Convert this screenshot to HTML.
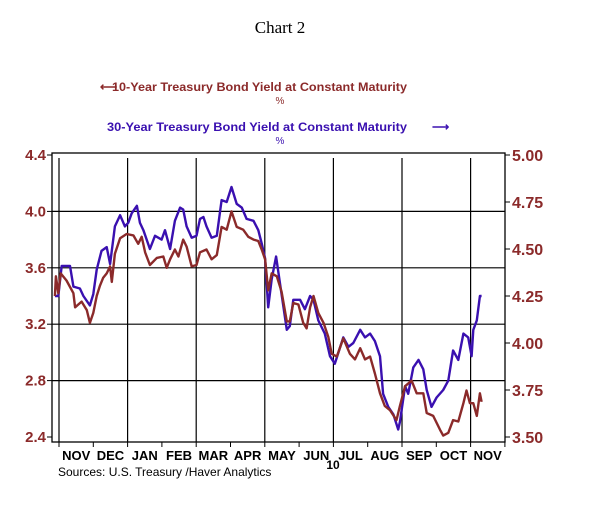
<!DOCTYPE html>
<html><head><meta charset="utf-8"><style>
body{margin:0;background:#fff;width:603px;height:507px;overflow:hidden}
svg{display:block;font-family:"Liberation Sans",sans-serif}
</style></head><body>
<svg id="chart" width="603" height="507">
<text x="280" y="33" text-anchor="middle" font-family="Liberation Serif" font-size="17">Chart 2</text>
<g>
<text x="100" y="91" fill="#8b2a2a" font-size="12" font-weight="bold">⟵</text>
<text x="112" y="91" fill="#8b2a2a" font-size="12" font-weight="bold" textLength="295" lengthAdjust="spacingAndGlyphs">10-Year Treasury Bond Yield at Constant Maturity</text>
<text x="280" y="104" fill="#8b2a2a" font-size="10" text-anchor="middle">%</text>
<text x="107" y="131" fill="#3a10b0" font-size="12" font-weight="bold" textLength="300" lengthAdjust="spacingAndGlyphs">30-Year Treasury Bond Yield at Constant Maturity</text>
<text x="432" y="131" fill="#3a10b0" font-size="12" font-weight="bold">⟶</text>
<text x="280" y="144" fill="#3a10b0" font-size="10" text-anchor="middle">%</text>
</g>
<g id="axes"></g>
<g id="series"></g>
<text x="333" y="469" font-size="12" font-weight="bold" text-anchor="middle">10</text>
<text x="58" y="476" font-size="12">Sources:  U.S. Treasury /Haver Analytics</text>
</svg>
<script>
const leftTicks=[2.4,2.8,3.2,3.6,4.0,4.4];
const rightTicks=[3.50,3.75,4.00,4.25,4.50,4.75,5.00];
const monthLabels=["NOV","DEC","JAN","FEB","MAR","APR","MAY","JUN","JUL","AUG","SEP","OCT","NOV"];
const redMonths=[-0.12,-0.09,-0.02,0.05,0.22,0.42,0.47,0.66,0.81,0.90,1.0,1.10,1.19,1.29,1.39,1.49,1.54,1.63,1.78,1.97,2.17,2.31,2.41,2.51,2.65,2.85,3.04,3.14,3.24,3.38,3.48,3.62,3.72,3.87,4.01,4.11,4.30,4.45,4.60,4.74,4.89,5.03,5.18,5.37,5.52,5.67,5.81,5.91,6.01,6.10,6.20,6.35,6.49,6.64,6.73,6.83,6.98,7.12,7.22,7.32,7.42,7.56,7.71,7.85,7.95,8.10,8.29,8.48,8.63,8.78,8.92,9.07,9.21,9.36,9.50,9.65,9.84,9.94,10.09,10.28,10.43,10.62,10.72,10.91,11.11,11.20,11.35,11.49,11.64,11.79,11.88,11.98,12.08,12.18,12.27,12.32];
const redValues=[3.40,3.54,3.42,3.56,3.51,3.42,3.32,3.36,3.30,3.21,3.28,3.40,3.47,3.53,3.56,3.61,3.50,3.70,3.81,3.84,3.83,3.77,3.82,3.71,3.62,3.67,3.68,3.60,3.66,3.73,3.68,3.80,3.75,3.61,3.62,3.71,3.73,3.66,3.69,3.89,3.87,4.00,3.89,3.87,3.82,3.80,3.79,3.73,3.66,3.44,3.56,3.54,3.43,3.22,3.22,3.35,3.34,3.21,3.17,3.32,3.40,3.28,3.21,3.11,2.99,2.97,3.10,2.99,2.95,3.03,2.95,2.97,2.85,2.71,2.62,2.59,2.52,2.62,2.76,2.80,2.71,2.71,2.57,2.55,2.45,2.41,2.43,2.52,2.51,2.64,2.73,2.64,2.64,2.55,2.71,2.65];
const blueMonths=[-0.12,-0.02,0.08,0.32,0.42,0.61,0.71,0.90,1.0,1.10,1.24,1.39,1.49,1.63,1.78,1.92,2.02,2.12,2.27,2.36,2.46,2.65,2.80,2.99,3.09,3.24,3.38,3.53,3.62,3.72,3.87,4.01,4.11,4.21,4.30,4.45,4.60,4.74,4.89,5.03,5.18,5.33,5.47,5.67,5.81,5.91,6.01,6.10,6.20,6.33,6.44,6.64,6.73,6.83,7.03,7.17,7.32,7.42,7.56,7.75,7.90,8.04,8.29,8.44,8.58,8.78,8.92,9.07,9.21,9.36,9.45,9.60,9.75,9.89,9.94,10.09,10.18,10.33,10.48,10.62,10.72,10.86,11.01,11.20,11.35,11.49,11.64,11.79,11.93,12.03,12.08,12.18,12.27,12.32];
const blueValues=[4.25,4.25,4.41,4.41,4.30,4.29,4.25,4.20,4.26,4.39,4.49,4.51,4.42,4.62,4.68,4.62,4.64,4.69,4.73,4.64,4.60,4.50,4.57,4.55,4.60,4.50,4.65,4.72,4.71,4.62,4.56,4.57,4.66,4.67,4.62,4.56,4.57,4.76,4.75,4.83,4.74,4.72,4.66,4.65,4.60,4.53,4.45,4.19,4.34,4.46,4.32,4.07,4.09,4.23,4.23,4.18,4.25,4.23,4.12,4.05,3.93,3.89,4.03,3.98,4.00,4.07,4.03,4.05,4.01,3.93,3.73,3.66,3.62,3.54,3.58,3.77,3.73,3.87,3.91,3.86,3.75,3.66,3.71,3.75,3.80,3.96,3.91,4.05,4.03,3.93,4.07,4.12,4.25,4.25];
const L=52,R=505,T=153,B=442;
const xS=m=>59+34.3*m;
const yL=v=>437-(v-2.4)/2.0*282;
const yR=v=>437-(v-3.5)/1.5*282;
const NS="http://www.w3.org/2000/svg";
const axes=document.getElementById('axes'),ser=document.getElementById('series');
function mk(p,tag,at){const e=document.createElementNS(NS,tag);for(const k in at)e.setAttribute(k,at[k]);p.appendChild(e);return e;}
const frame=mk(axes,'rect',{x:L,y:T,width:R-L,height:B-T,fill:'none',stroke:'#000','stroke-width':1.3});


leftTicks.forEach(v=>{
 const y=yL(v);
 if(v>2.4&&v<4.4){const g=mk(axes,'line',{x1:L,x2:R,y1:y,y2:y,stroke:'#000','stroke-width':1.2});
 
 }
 mk(axes,'line',{x1:L-5,x2:L,y1:y,y2:y,stroke:'#000'});
 const t=mk(axes,'text',{x:46,y:y+5,'text-anchor':'end','font-size':15,'font-weight':'bold',fill:'#8b2a2a'});
 t.textContent=v.toFixed(1);
 
 
});
rightTicks.forEach(v=>{
 const y=yR(v);
 mk(axes,'line',{x1:R,x2:R+5,y1:y,y2:y,stroke:'#000'});
 const t=mk(axes,'text',{x:512,y:y+6,'font-size':16,'font-weight':'bold',fill:'#8b2a2a'});
 t.textContent=v.toFixed(2);
 
 
});
for(let m=0;m<=13;m++){
 const x=xS(m);
 if(x<R){mk(axes,'line',{x1:x,x2:x,y1:B,y2:B+5,stroke:'#000'});
 if(m%2===0){const g=mk(axes,'line',{x1:x,x2:x,y1:T+5,y2:B,stroke:'#000','stroke-width':1.2});
 
 }}
}
monthLabels.forEach((s,i)=>{
 const t=mk(axes,'text',{x:xS(i+0.5),y:460,'text-anchor':'middle','font-size':13,'font-weight':'bold'});
 t.textContent=s;
 
 
});
function line(ms,vs,ys,c,name){
 const d=ms.map((m,i)=>(i?'L':'M')+xS(m).toFixed(1)+','+ys(vs[i]).toFixed(1)).join('');
 const p=mk(ser,'path',{d:d,fill:'none',stroke:c,'stroke-width':2.4,'stroke-linejoin':'round'});
 
 
}
line(blueMonths,blueValues,yR,'#3a10b0','series-30y');
line(redMonths,redValues,yL,'#8b2a2a','series-10y');
</script>
</body></html>
